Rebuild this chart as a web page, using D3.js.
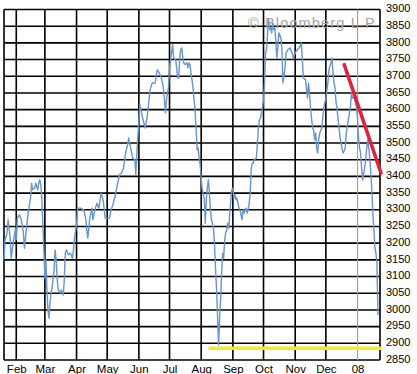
<!DOCTYPE html>
<html>
<head>
<meta charset="utf-8">
<script src="https://cdn.jsdelivr.net/npm/d3@7"></script>
<style>
  body { margin: 0; background: #fff; }
  svg { display: block; }
</style>
</head>
<body>
<div id="chart"></div>
<script>
//#region Data
// daily closes (Jan 2007 - Jan 2008)
const tradeDates = [
    "2007-01-20", "2007-01-21", "2007-01-23", "2007-01-24", "2007-01-25", "2007-01-26", "2007-01-27", "2007-01-29", "2007-01-31",
    "2007-02-01", "2007-02-02", "2007-02-04", "2007-02-06", "2007-02-08", "2007-02-09", "2007-02-11", "2007-02-13", "2007-02-15",
    "2007-02-16", "2007-02-17", "2007-02-19", "2007-02-20", "2007-02-22", "2007-02-23", "2007-02-24", "2007-02-25", "2007-02-26",
    "2007-02-27", "2007-02-28", "2007-03-01", "2007-03-02", "2007-03-03", "2007-03-04", "2007-03-05", "2007-03-06", "2007-03-07",
    "2007-03-08", "2007-03-10", "2007-03-11", "2007-03-12", "2007-03-13", "2007-03-14", "2007-03-16", "2007-03-17", "2007-03-19",
    "2007-03-20", "2007-03-21", "2007-03-22", "2007-03-24", "2007-03-26", "2007-03-28", "2007-03-29", "2007-03-30", "2007-04-01",
    "2007-04-02", "2007-04-05", "2007-04-08", "2007-04-10", "2007-04-11", "2007-04-12", "2007-04-14", "2007-04-16", "2007-04-17",
    "2007-04-19", "2007-04-21", "2007-04-23", "2007-04-25", "2007-04-27", "2007-04-29", "2007-05-01", "2007-05-03", "2007-05-05",
    "2007-05-07", "2007-05-09", "2007-05-11", "2007-05-13", "2007-05-15", "2007-05-17", "2007-05-19", "2007-05-21", "2007-05-22",
    "2007-05-24", "2007-05-25", "2007-05-26", "2007-05-28", "2007-05-29", "2007-05-30", "2007-05-31", "2007-06-01", "2007-06-02",
    "2007-06-04", "2007-06-07", "2007-06-09", "2007-06-12", "2007-06-14", "2007-06-17", "2007-06-19", "2007-06-21", "2007-06-23",
    "2007-06-25", "2007-06-26", "2007-06-27", "2007-06-28", "2007-06-29", "2007-06-30", "2007-07-01", "2007-07-02", "2007-07-03",
    "2007-07-04", "2007-07-05", "2007-07-07", "2007-07-08", "2007-07-09", "2007-07-10", "2007-07-11", "2007-07-12", "2007-07-13",
    "2007-07-14", "2007-07-15", "2007-07-16", "2007-07-18", "2007-07-19", "2007-07-20", "2007-07-21", "2007-07-22", "2007-07-23",
    "2007-07-24", "2007-07-25", "2007-07-26", "2007-07-27", "2007-07-28", "2007-07-29", "2007-07-30", "2007-07-31", "2007-08-01",
    "2007-08-02", "2007-08-03", "2007-08-04", "2007-08-05", "2007-08-06", "2007-08-07", "2007-08-08", "2007-08-09", "2007-08-10",
    "2007-08-11", "2007-08-12", "2007-08-13", "2007-08-14", "2007-08-15", "2007-08-16", "2007-08-17", "2007-08-18", "2007-08-19",
    "2007-08-20", "2007-08-21", "2007-08-22", "2007-08-23", "2007-08-24", "2007-08-25", "2007-08-26", "2007-08-27", "2007-08-28",
    "2007-08-29", "2007-08-30", "2007-08-31", "2007-09-01", "2007-09-02", "2007-09-03", "2007-09-04", "2007-09-05", "2007-09-07",
    "2007-09-08", "2007-09-09", "2007-09-10", "2007-09-11", "2007-09-12", "2007-09-14", "2007-09-15", "2007-09-16", "2007-09-17",
    "2007-09-18", "2007-09-19", "2007-09-20", "2007-09-21", "2007-09-22", "2007-09-24", "2007-09-25", "2007-09-26", "2007-09-27",
    "2007-09-28", "2007-09-29", "2007-09-30", "2007-10-01", "2007-10-02", "2007-10-03", "2007-10-04", "2007-10-05", "2007-10-06",
    "2007-10-07", "2007-10-08", "2007-10-09", "2007-10-10", "2007-10-11", "2007-10-12", "2007-10-13", "2007-10-14", "2007-10-15",
    "2007-10-16", "2007-10-18", "2007-10-19", "2007-10-20", "2007-10-22", "2007-10-23", "2007-10-25", "2007-10-27", "2007-10-29",
    "2007-10-30", "2007-11-01", "2007-11-03", "2007-11-05", "2007-11-07", "2007-11-08", "2007-11-09", "2007-11-11", "2007-11-12",
    "2007-11-13", "2007-11-14", "2007-11-15", "2007-11-16", "2007-11-17", "2007-11-18", "2007-11-19", "2007-11-20", "2007-11-21",
    "2007-11-22", "2007-11-23", "2007-11-24", "2007-11-25", "2007-11-27", "2007-11-29", "2007-12-01", "2007-12-03", "2007-12-04",
    "2007-12-06", "2007-12-07", "2007-12-08", "2007-12-09", "2007-12-10", "2007-12-11", "2007-12-12", "2007-12-13", "2007-12-15",
    "2007-12-17", "2007-12-18", "2007-12-20", "2007-12-21", "2007-12-23", "2007-12-25", "2007-12-26", "2007-12-27", "2007-12-29",
    "2007-12-30", "2007-12-31", "2008-01-01", "2008-01-02", "2008-01-03", "2008-01-04", "2008-01-05", "2008-01-06", "2008-01-07",
    "2008-01-08", "2008-01-09", "2008-01-10", "2008-01-11", "2008-01-12", "2008-01-13", "2008-01-14", "2008-01-15", "2008-01-16",
    "2008-01-17", "2008-01-18", "2008-01-19", "2008-01-20", "2008-01-21"
];

const indexValues = [
    3150, 3210, 3230, 3270, 3245, 3215, 3155, 3200, 3240,
    3210, 3275, 3285, 3270, 3230, 3185, 3245, 3300, 3335,
    3380, 3360, 3365, 3380, 3360, 3380, 3390, 3375, 3335,
    3260, 3185, 3095, 3150, 3060, 3000, 2975, 3020, 3050,
    3065, 3120, 3180, 3150, 3095, 3060, 3050, 3060, 3045,
    3090, 3170, 3180, 3165, 3170, 3155, 3180, 3215, 3255,
    3305, 3305, 3300, 3275, 3240, 3215, 3275, 3305, 3270,
    3300, 3320, 3305, 3350, 3330, 3275, 3275, 3275, 3300,
    3320, 3345, 3375, 3405, 3410, 3425, 3470, 3495, 3515,
    3485, 3470, 3455, 3450, 3405, 3470, 3515, 3570, 3615,
    3585, 3545, 3575, 3660, 3680, 3680, 3720, 3710, 3695,
    3665, 3630, 3590, 3630, 3650, 3665, 3725, 3750, 3770,
    3795, 3755, 3750, 3725, 3695, 3695, 3755, 3780, 3785,
    3755, 3740, 3735, 3740, 3725, 3740, 3735, 3710, 3690,
    3665, 3630, 3600, 3545, 3480, 3485, 3455, 3435, 3395,
    3360, 3350, 3330, 3260, 3330, 3365, 3390, 3350, 3300,
    3270, 3260, 3245, 3200, 3125, 3065, 2985, 2895, 2975,
    3030, 3110, 3170, 3155, 3210, 3230, 3240, 3260, 3245,
    3290, 3330, 3360, 3365, 3335, 3345, 3330, 3335, 3305,
    3300, 3285, 3270, 3300, 3290, 3305, 3290, 3300, 3320,
    3350, 3425, 3440, 3440, 3450, 3455, 3500, 3545, 3570,
    3575, 3590, 3605, 3630, 3680, 3770, 3780, 3830, 3870,
    3840, 3845, 3830, 3860, 3840, 3845, 3810, 3755, 3785,
    3830, 3815, 3780, 3680, 3725, 3770, 3780, 3785, 3770,
    3755, 3770, 3780, 3785, 3800, 3750, 3695, 3690, 3665,
    3635, 3680, 3650, 3605, 3575, 3545, 3540, 3510, 3530,
    3485, 3470, 3510, 3530, 3545, 3605, 3635, 3680, 3720,
    3740, 3755, 3710, 3680, 3665, 3620, 3605, 3570, 3515,
    3480, 3470, 3485, 3530, 3570, 3605, 3650, 3635, 3635,
    3620, 3605, 3575, 3515, 3485, 3470, 3425, 3390, 3410,
    3425, 3450, 3485, 3510, 3485, 3455, 3410, 3360, 3290,
    3240, 3185, 3170, 3140, 2985
];

const yTicks = [2850, 2900, 2950, 3000, 3050, 3100, 3150, 3200, 3250, 3300, 3350,
    3400, 3450, 3500, 3550, 3600, 3650, 3700, 3750, 3800, 3850, 3900];

const monthTicks = ["2007-02-01", "2007-03-01", "2007-04-01", "2007-05-01", "2007-06-01", "2007-07-01",
    "2007-08-01", "2007-09-01", "2007-10-01", "2007-11-01", "2007-12-01", "2008-01-01"];
const monthLabels = ["Feb", "Mar", "Apr", "May", "Jun", "Jul", "Aug", "Sep", "Oct", "Nov", "Dec", "08"];

// hand drawn trend lines
const trendDates = ["2007-12-19", "2008-01-24"];
const trendValues = [3735, 3410];
const supportDates = ["2007-08-08", "2008-01-25"];
const supportValues = [2885, 2885];

const xDomain = ["2007-01-20", "2008-01-23"];
//#endregion

const parseDate = d3.timeParse("%Y-%m-%d");

document.addEventListener("DOMContentLoaded", function () {
    drawChart();
});

function drawChart() {
    const width = 417, height = 374;
    const left = 4, right = 380, top = 9.5, bottom = 360;

    const svg = d3.select("#chart")
        .append("svg")
        .attr("width", width)
        .attr("height", height)
        .style("font-family", "Arial, 'Liberation Sans', sans-serif");

    svg.append("rect")
        .attr("width", width)
        .attr("height", height)
        .attr("fill", "#fff");

    const x = d3.scaleTime()
        .domain(xDomain.map(parseDate))
        .range([left, right]);

    const y = d3.scaleLinear()
        .domain([2850, 3900])
        .range([bottom, top]);

    const series = tradeDates.map((d, i) => ({ date: parseDate(d), value: indexValues[i] }));
    const ticks = monthTicks.map(parseDate);

    // horizontal grid
    svg.append("g")
        .selectAll("line")
        .data(yTicks)
        .enter()
        .append("line")
        .attr("x1", left)
        .attr("x2", right)
        .attr("y1", d => y(d))
        .attr("y2", d => y(d))
        .attr("stroke", "#000")
        .attr("stroke-width", 1.6);

    // vertical grid at month starts (year start is drawn in orange below)
    svg.append("g")
        .selectAll("line")
        .data(ticks.filter(d => d.getMonth() !== 0))
        .enter()
        .append("line")
        .attr("x1", d => x(d))
        .attr("x2", d => x(d))
        .attr("y1", top)
        .attr("y2", bottom)
        .attr("stroke", "#000")
        .attr("stroke-width", 1.6);

    // frame sides
    svg.append("g")
        .selectAll("line")
        .data([left, right])
        .enter()
        .append("line")
        .attr("x1", d => d)
        .attr("x2", d => d)
        .attr("y1", top)
        .attr("y2", bottom)
        .attr("stroke", "#000")
        .attr("stroke-width", 1.6);

    // watermark
    svg.append("text")
        .attr("x", 248)
        .attr("y", 28)
        .attr("font-size", 14.5)
        .attr("fill", "#a3a3a3")
        .attr("textLength", 130)
        .attr("lengthAdjust", "spacing")
        .text("\u00A9 Bloomberg L.P.");

    // year divider
    const yearStart = ticks.find(d => d.getMonth() === 0);
    svg.append("line")
        .attr("x1", x(yearStart))
        .attr("x2", x(yearStart))
        .attr("y1", top)
        .attr("y2", bottom)
        .attr("stroke", "#d8924a")
        .attr("stroke-width", 1.1);

    const line = d3.line()
        .x(d => x(d.date))
        .y(d => y(d.value));

    svg.append("path")
        .datum(series)
        .attr("fill", "none")
        .attr("stroke", "#6795cc")
        .attr("stroke-width", 1.4)
        .attr("stroke-linejoin", "round")
        .attr("d", line);

    // support line (yellow)
    svg.append("path")
        .datum(supportDates.map((d, i) => ({ date: parseDate(d), value: supportValues[i] })))
        .attr("fill", "none")
        .attr("stroke", "#f6e92e")
        .attr("stroke-width", 3.5)
        .attr("d", line);

    // downtrend line (red)
    svg.append("path")
        .datum(trendDates.map((d, i) => ({ date: parseDate(d), value: trendValues[i] })))
        .attr("fill", "none")
        .attr("stroke", "#e0223a")
        .attr("stroke-width", 3.5)
        .attr("stroke-linecap", "round")
        .attr("d", line);

    // month axis
    const xAxis = svg.append("g")
        .attr("transform", `translate(0,${bottom})`)
        .call(d3.axisBottom(x)
            .tickValues(ticks)
            .tickSize(0)
            .tickPadding(5)
            .tickFormat((d, i) => monthLabels[i]));
    xAxis.select(".domain").remove();
    xAxis.selectAll("text")
        .attr("font-size", 11.5)
        .attr("font-family", "Arial, 'Liberation Sans', sans-serif")
        .attr("fill", "#000");

    // value axis on the right
    const yAxis = svg.append("g")
        .attr("transform", `translate(${right},0)`)
        .call(d3.axisRight(y)
            .tickValues(yTicks)
            .tickSize(0)
            .tickPadding(6)
            .tickFormat(d3.format("d")));
    yAxis.select(".domain").remove();
    yAxis.selectAll("text")
        .attr("font-size", 11)
        .attr("dy", "0.2em")
        .attr("font-family", "Arial, 'Liberation Sans', sans-serif")
        .attr("fill", "#000");
}
</script>
</body>
</html>
